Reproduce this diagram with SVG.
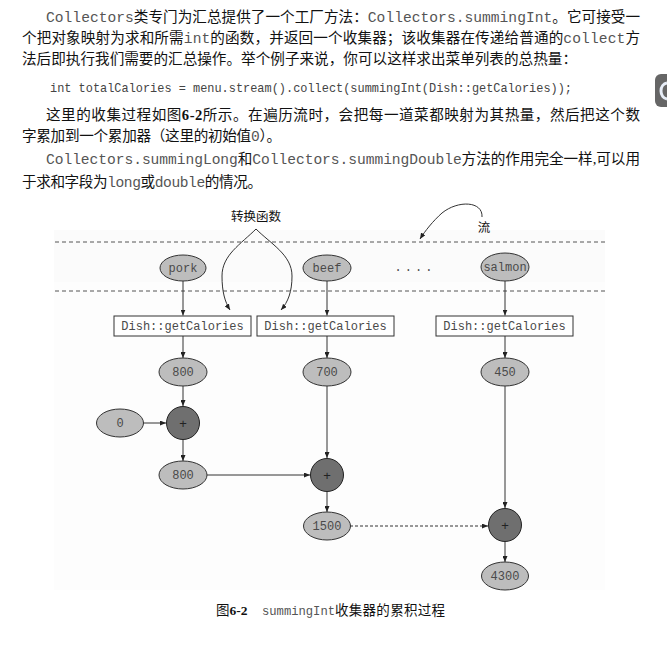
<svg xmlns="http://www.w3.org/2000/svg" width="667" height="660" viewBox="0 0 667 660">
<style>
.p{font-family:"Liberation Serif","Noto Sans CJK SC",serif;font-size:14.6px;fill:#111}
.m{font-family:"Liberation Mono",monospace;fill:#555}
.code{font-family:"Liberation Mono",monospace;font-size:11.9px;fill:#444}
.ell{fill:#bdbdbd;stroke:#333;stroke-width:1}
.plus{fill:#6f6f6f;stroke:#222;stroke-width:1}
.box{fill:#fff;stroke:#333;stroke-width:1}
.nt{font-family:"Liberation Mono",monospace;font-size:12px;fill:#4a4a4a;text-anchor:middle}
.pt{font-family:"Liberation Sans",sans-serif;font-size:13px;fill:#222;text-anchor:middle}
.lab{font-family:"Liberation Serif","Noto Sans CJK SC",serif;font-size:12.5px;fill:#111;text-anchor:middle}
.c{fill:none;stroke:#333;stroke-width:1}
.dash{fill:none;stroke:#555;stroke-width:1;stroke-dasharray:4 3}
.cap{font-family:"Liberation Serif","Noto Sans CJK SC",serif;font-size:13.5px;fill:#111}
</style>
<defs>
<marker id="ah" markerUnits="userSpaceOnUse" markerWidth="6" markerHeight="5" refX="6" refY="2.5" orient="auto">
<path d="M0,0 L6,2.5 L0,5 z" fill="#222"/>
</marker>
</defs>
<rect width="667" height="660" fill="#fff"/>
<!-- page tab -->
<rect x="655" y="74" width="20" height="33" rx="6" fill="#666"/>
<path d="M667,83 A7,8 0 0 0 661,91 A7,8 0 0 0 667,99" fill="none" stroke="#e8eef8" stroke-width="3"/>

<!-- body text -->
<text class="p" x="46" y="22" textLength="594" lengthAdjust="spacing"><tspan class="m">Collectors</tspan>类专门为汇总提供了一个工厂方法：<tspan class="m">Collectors.summingInt</tspan>。它可接受一</text>
<text class="p" x="22" y="43" textLength="618" lengthAdjust="spacing">个把对象映射为求和所需<tspan class="m">int</tspan>的函数，并返回一个收集器；该收集器在传递给普通的<tspan class="m">collect</tspan>方</text>
<text class="p" x="22" y="64" textLength="555" lengthAdjust="spacing">法后即执行我们需要的汇总操作。举个例子来说，你可以这样求出菜单列表的总热量：</text>
<text class="code" x="50" y="92" textLength="522" lengthAdjust="spacing">int totalCalories = menu.stream().collect(summingInt(Dish::getCalories));</text>
<text class="p" x="46" y="119.5" textLength="594" lengthAdjust="spacing">这里的收集过程如图<tspan font-weight="bold">6-2</tspan>所示。在遍历流时，会把每一道菜都映射为其热量，然后把这个数</text>
<text class="p" x="22" y="141" textLength="259" lengthAdjust="spacing">字累加到一个累加器（这里的初始值<tspan class="m">0</tspan>）。</text>
<text class="p" x="46" y="164" textLength="594" lengthAdjust="spacing"><tspan class="m">Collectors.summingLong</tspan>和<tspan class="m">Collectors.summingDouble</tspan>方法的作用完全一样,可以用</text>
<text class="p" x="22" y="187" textLength="240" lengthAdjust="spacing">于求和字段为<tspan class="m">long</tspan>或<tspan class="m">double</tspan>的情况。</text>

<!-- figure background -->
<rect x="54" y="230" width="551" height="360" fill="#fdfdfd"/>
<rect x="54" y="230" width="551" height="52" fill="#fbfbfb"/>
<line class="dash" x1="55" y1="242" x2="605" y2="242"/>
<line class="dash" x1="55" y1="291" x2="605" y2="291"/>

<!-- connectors -->
<g id="connectors">
<path class="c" d="M183,281 V315.5" marker-end="url(#ah)"/>
<path class="c" d="M327,281 V315.5" marker-end="url(#ah)"/>
<path class="c" d="M505,281 V315.5" marker-end="url(#ah)"/>
<path class="c" d="M256,229 C241,244 222,255 222,276 C222,292 225,302 230,310" marker-end="url(#ah)"/>
<path class="c" d="M256,229 C271,244 292,255 292,276 C292,292 288,302 281,310" marker-end="url(#ah)"/>
<path class="c" d="M482,217 C483,201 458,200 442,213 C433,221 425,231 420,239" marker-end="url(#ah)"/>
<path class="c" d="M183,336 V358" marker-end="url(#ah)"/>
<path class="c" d="M327,336 V358" marker-end="url(#ah)"/>
<path class="c" d="M505,336 V358" marker-end="url(#ah)"/>
<path class="c" d="M183,386 V406" marker-end="url(#ah)"/>
<path class="c" d="M143,423 H166" marker-end="url(#ah)"/>
<path class="c" d="M183,440 V461" marker-end="url(#ah)"/>
<path class="c" d="M327,386 V458" marker-end="url(#ah)"/>
<path class="c" d="M207,475 H310" stroke="#777" marker-end="url(#ah)"/>
<path class="c" d="M327,492 V512" marker-end="url(#ah)"/>
<path class="c" d="M350,526 H488" stroke-dasharray="3 2" marker-end="url(#ah)"/>
<path class="c" d="M505,386 V508" stroke="#888" marker-end="url(#ah)"/>
<path class="c" d="M505,542 V562" marker-end="url(#ah)"/>
</g>

<g id="label-transform"><text class="lab" x="256" y="221">转换函数</text></g>
<g id="label-stream"><text class="lab" x="484" y="232">流</text></g>

<g id="pork"><ellipse class="ell" cx="183" cy="268" rx="23" ry="13"/><text class="nt" x="183" y="272">pork</text></g>
<g id="beef"><ellipse class="ell" cx="327" cy="268" rx="24" ry="13"/><text class="nt" x="327" y="272">beef</text></g>
<g id="dots"><text class="nt" x="415" y="271" letter-spacing="3">....</text></g>
<g id="salmon"><ellipse class="ell" cx="505" cy="267" rx="24" ry="14"/><text class="nt" x="505" y="271">salmon</text></g>

<g id="map1"><rect class="box" x="114" y="316" width="137" height="20"/><text class="nt" x="182.5" y="330">Dish::getCalories</text></g>
<g id="map2"><rect class="box" x="257" y="316" width="137" height="20"/><text class="nt" x="325.5" y="330">Dish::getCalories</text></g>
<g id="map3"><rect class="box" x="436" y="316" width="137" height="20"/><text class="nt" x="504.5" y="330">Dish::getCalories</text></g>

<g id="v800a"><ellipse class="ell" cx="183" cy="372" rx="24" ry="14"/><text class="nt" x="183" y="376">800</text></g>
<g id="v700"><ellipse class="ell" cx="327" cy="372" rx="24" ry="14"/><text class="nt" x="327" y="376">700</text></g>
<g id="v450"><ellipse class="ell" cx="505" cy="372" rx="24" ry="14"/><text class="nt" x="505" y="376">450</text></g>
<g id="v0"><ellipse class="ell" cx="120" cy="423" rx="23.5" ry="14"/><text class="nt" x="120" y="427">0</text></g>
<g id="plus1"><circle class="plus" cx="183" cy="423" r="16.5"/><text class="pt" x="183" y="427.5">+</text></g>
<g id="v800b"><ellipse class="ell" cx="183" cy="475" rx="24" ry="14"/><text class="nt" x="183" y="479">800</text></g>
<g id="plus2"><circle class="plus" cx="327" cy="475" r="16.5"/><text class="pt" x="327" y="479.5">+</text></g>
<g id="v1500"><ellipse class="ell" cx="327" cy="526" rx="23.5" ry="14"/><text class="nt" x="327" y="530">1500</text></g>
<g id="plus3"><circle class="plus" cx="505" cy="525" r="16.5"/><text class="pt" x="505" y="529.5">+</text></g>
<g id="v4300"><ellipse class="ell" cx="505" cy="576" rx="23.5" ry="14"/><text class="nt" x="505" y="580">4300</text></g>

<!-- caption -->
<text class="cap" x="216" y="615">图<tspan font-weight="bold">6-2</tspan></text>
<text class="m" x="262" y="615" font-size="12.2" textLength="73" lengthAdjust="spacing">summingInt</text>
<text class="cap" x="335" y="615" textLength="110" lengthAdjust="spacing">收集器的累积过程</text>
</svg>
